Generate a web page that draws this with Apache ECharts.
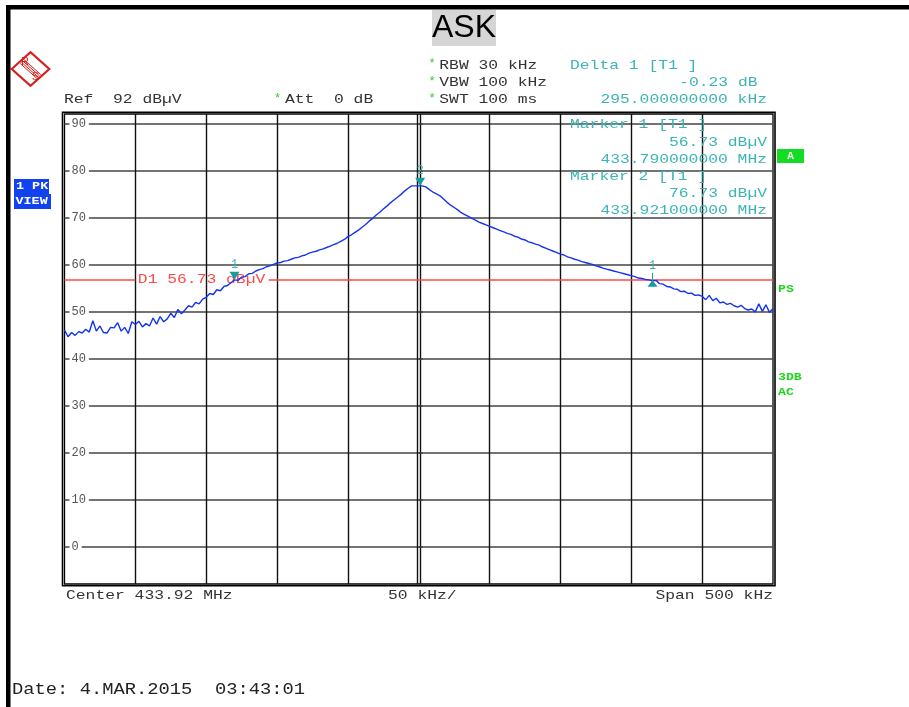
<!DOCTYPE html>
<html><head><meta charset="utf-8">
<script src="https://cdn.jsdelivr.net/npm/echarts@6/dist/echarts.min.js"></script>
<style>html,body{margin:0;padding:0;background:#fff}#c{width:909px;height:707px}</style>
</head><body><div id="c"></div>
<script>
// ---- data ----
const centerMHz = 433.92;
const spanKHz = 500;
const divKHz = 50;
const startKHz = -250;      // sweep start, offset from center (kHz)
const stepKHz = 2.5;        // sweep point spacing (kHz)
const levels = [
 46.0,44.6,45.5,44.9,45.7,45.4,46.2,45.6,48.0,45.8,
 46.9,45.5,45.4,46.6,46.5,47.6,45.8,46.6,45.3,47.8,
 47.2,47.9,46.7,47.4,46.9,48.6,47.3,48.9,47.8,48.4,
 49.6,48.7,50.4,49.5,50.3,51.2,50.9,51.9,51.6,52.6,
 53.0,53.8,53.6,54.6,54.4,55.3,55.5,56.1,56.7,56.6,
 57.3,57.4,58.0,58.1,58.6,58.9,59.1,59.5,59.7,60.0,
 60.3,60.4,60.7,60.8,61.1,61.4,61.5,61.8,62.0,62.4,
 62.6,62.8,63.1,63.3,63.6,63.9,64.2,64.5,64.9,65.3,
 65.9,66.3,66.8,67.3,67.9,68.5,69.2,69.8,70.5,71.1,
 71.8,72.4,73.1,73.7,74.3,74.9,75.6,76.2,76.7,76.7,
 76.7,76.7,76.5,75.9,75.4,75.0,74.6,73.9,73.2,72.6,
 72.1,71.6,71.0,70.6,70.2,69.8,69.4,69.0,68.7,68.4,
 68.1,67.8,67.5,67.2,66.9,66.6,66.4,66.0,65.8,65.4,
 65.2,64.8,64.6,64.3,64.1,63.7,63.4,63.1,62.8,62.5,
 62.2,62.0,61.6,61.4,61.1,60.9,60.6,60.4,60.2,60.0,
 59.7,59.5,59.2,59.0,58.8,58.6,58.4,58.2,58.0,57.8,
 57.6,57.4,57.1,57.0,56.8,56.7,56.5,56.6,55.9,55.8,
 55.3,55.2,54.8,54.7,54.2,54.3,53.8,53.9,53.4,53.5,
 53.2,52.5,53.4,52.3,52.8,51.8,52.0,51.5,51.7,51.2,
 50.9,51.3,50.6,50.3,50.5,49.9,51.6,50.0,51.4,49.8,
 50.6
];
const refLevel = 92;
const rangeDb = 100;
const yTicks = [0,10,20,30,40,50,60,70,80,90];
const xGridLines = [-200,-150,-100,-50,-1.1,1.1,50,100,150,200];
const markerFreqKHz = [-130, 1];
const markerLevel = [56.73, 76.73];
const deltaKHz = 295;
const deltaDb = -0.23;
const d1Level = 56.73;

// ---- styles ----
const MONO = '"Liberation Mono","DejaVu Sans Mono",monospace';
const TEAL = '#3cb4b4', TEAL_D = '#179b9b', GREEN = '#22d422', DARK = '#333333', RED = '#ff4848';

const traceData = levels.map((v, i) => [startKHz + i * stepKHz, v]);
const xMin = startKHz, xMax = startKHz + spanKHz;
const deltaX = markerFreqKHz[0] + deltaKHz;
const deltaLevel = +(markerLevel[0] + deltaDb).toFixed(2);

const chart = echarts.init(document.getElementById('c'));
const base = {
  animation: false,
  backgroundColor: '#fff',
  grid: { left: 64.5, top: 114, width: 708.5, height: 470, show: true, borderColor: '#000', borderWidth: 1.3, backgroundColor: 'transparent' },
  xAxis: {
    type: 'value', min: xMin, max: xMax,
    axisLine: { show: false },
    axisTick: { show: false, customValues: xGridLines },
    axisLabel: { show: false },
    splitLine: { show: true, lineStyle: { color: '#111', width: 1.4 } }
  },
  yAxis: {
    type: 'value', min: refLevel - rangeDb, max: refLevel,
    axisLine: { show: false },
    axisTick: { show: true, inside: true, length: 4, customValues: yTicks, lineStyle: { color: '#444', width: 1.5 } },
    axisLabel: { inside: true, margin: 5, customValues: yTicks, color: '#555', fontFamily: MONO, fontSize: 12,
      backgroundColor: '#fff', padding: [0, 3, 0, 2] },
    splitLine: { show: true, lineStyle: { color: '#444', width: 1.6 } }
  },
  series: [
    { id: 'd1', type: 'line', data: [], z: 2, silent: true,
      markLine: { symbol: 'none', silent: true, animation: false, label: { show: false },
        lineStyle: { color: RED, width: 1.5, type: 'solid' },
        data: [[{ coord: [xMin, d1Level] }, { coord: [xMax, d1Level] }]] } },
    { id: 'trace', type: 'line', data: traceData, showSymbol: false, z: 5, silent: true,
      lineStyle: { color: '#1434f0', width: 1.4 } },
    { id: 'markers', type: 'scatter', z: 6, silent: true,
      data: markerFreqKHz.map((f, i) => [f, markerLevel[i]]),
      symbol: 'path://M0,0 L10,0 L5,8 Z', symbolSize: [10, 8], symbolOffset: [0, -4],
      itemStyle: { color: TEAL_D, opacity: 1 },
      label: { show: true, position: 'top', distance: 1, color: TEAL, fontFamily: MONO, fontSize: 12,
        formatter: p => String(p.dataIndex + 1) } },
    { id: 'delta', type: 'scatter', z: 6, silent: true,
      data: [[deltaX, deltaLevel]],
      symbol: 'path://M4.5,0 L5.5,0 L5.5,8 L10,14 L0,14 L4.5,8 Z', symbolSize: [10, 14], symbolOffset: [0, -1],
      itemStyle: { color: TEAL_D, opacity: 1 },
      label: { show: true, position: 'top', distance: 1, color: TEAL, fontFamily: MONO, fontSize: 12, formatter: '1' } }
  ]
};
chart.setOption(base);

function t(str, x, y, color, o) {
  o = o || {};
  const al = o.align || 'left';
  const st = { text: str, fill: color, font: (o.bold ? 'bold ' : '') + (o.size || 13) + 'px ' + (o.family || MONO),
    align: al, verticalAlign: 'middle', textAlign: al, textVerticalAlign: 'middle' };
  if (o.bg) { st.backgroundColor = o.bg; st.padding = o.pad || [0, 2]; }
  return { type: 'text', x: x, y: y, z: o.z != null ? o.z : 50, scaleX: o.sx != null ? o.sx : 1.256, scaleY: o.sy || 1,
    rotation: o.rot || 0, silent: true, style: st };
}
function r(x, y, w, h, fill, z) {
  return { type: 'rect', z: z || 40, silent: true, shape: { x, y, width: w, height: h }, style: { fill } };
}

// D1 label position derived from the axis scale
const p0 = chart.convertToPixel({ gridIndex: 0 }, [xGridLines[0], d1Level]);
const d1Text = 'D1 ' + d1Level.toFixed(2) + ' dBµV';
const labelEndPx = p0[0] + d1Text.length * 7.8 * 1.256 + 6;
const labelEndX = chart.convertFromPixel({ gridIndex: 0 }, [labelEndPx, p0[1]])[0];

const gRect = chart.getModel().getComponent('grid').coordinateSystem.getRect();

const fmtMHz = f => (centerMHz + f / 1000).toFixed(9) + ' MHz';
const LOGO = '#d52020';
const graphics = [
  // page border
  r(6, 5, 903, 4.5, '#000', 60),
  r(6, 5, 4.5, 702, '#000', 60),
  // outer plot frame
  { type: 'rect', z: 40, silent: true, shape: { x: gRect.x - 2, y: gRect.y - 1.8, width: gRect.width + 4, height: gRect.height + 3.6 },
    style: { fill: 'none', stroke: '#000', lineWidth: 1.6 } },
  // title
  r(432, 10, 64, 36, '#d6d6d6', 40),
  t('ASK', 464, 28.5, '#000', { size: 32, family: '"Liberation Sans",Arial,sans-serif', align: 'center', sx: 1 }),
  // R&S logo
  { type: 'polygon', z: 40, silent: true, shape: { points: [[11.7, 69], [30.5, 52.3], [49.3, 69], [30.5, 85.7]] },
    style: { fill: '#fff', stroke: LOGO, lineWidth: 2.2 } },
  ...[-2.7, -0.9, 0.9, 2.7].map(d => ({ type: 'line', z: 41, silent: true,
    shape: { x1: 22 - 0.664 * d, y1: 61.5 + 0.747 * d, x2: 39 - 0.664 * d, y2: 76.6 + 0.747 * d },
    style: { stroke: LOGO, lineWidth: 1 } })),
  t('R', 25, 62, LOGO, { size: 11, family: '"Liberation Sans",sans-serif', align: 'center', sx: 1, z: 42 }),
  t('S', 35.5, 76.5, LOGO, { size: 11, family: '"Liberation Sans",sans-serif', align: 'center', sx: 1, z: 42 }),
  // header
  t('Ref  ' + refLevel + ' dBµV', 64, 100, DARK),
  t('*', 277.5, 99, GREEN, { size: 12, align: 'center', sx: 1 }),
  t('Att  0 dB', 285, 100, DARK),
  t('*', 432, 64, GREEN, { size: 12, align: 'center', sx: 1 }),
  t('RBW 30 kHz', 439.3, 65.3, DARK),
  t('*', 432, 81.5, GREEN, { size: 12, align: 'center', sx: 1 }),
  t('VBW 100 kHz', 439.3, 82.5, DARK),
  t('*', 432, 99, GREEN, { size: 12, align: 'center', sx: 1 }),
  t('SWT 100 ms', 439.3, 100, DARK),
  t('Delta 1 [T1 ]', 570, 65.3, TEAL),
  t(deltaDb.toFixed(2) + ' dB', 757.5, 82.5, TEAL, { align: 'right' }),
  t(deltaKHz.toFixed(9) + ' kHz', 767, 100, TEAL, { align: 'right' }),
  t('Marker 1 [T1 ]', 570, 125, TEAL),
  t(markerLevel[0].toFixed(2) + ' dBµV', 767, 142.5, TEAL, { align: 'right' }),
  t(fmtMHz(markerFreqKHz[0]), 767, 159.3, TEAL, { align: 'right' }),
  t('Marker 2 [T1 ]', 570, 176.7, TEAL),
  t(markerLevel[1].toFixed(2) + ' dBµV', 767, 193.3, TEAL, { align: 'right' }),
  t(fmtMHz(markerFreqKHz[1]), 767, 211, TEAL, { align: 'right' }),
  // left trace box
  r(14, 179, 35, 15, '#1242f0', 40),
  r(14, 194, 37, 15, '#1242f0', 40),
  t('1 PK', 16, 186.5, '#fff', { size: 11, bold: true, sx: 1.22 }),
  t('VIEW', 15.5, 201.5, '#fff', { size: 11, bold: true, sx: 1.22 }),
  // right side indicators
  r(777, 149, 27, 14, '#12dd22', 40),
  t('A', 790.5, 156, '#fff', { size: 10, bold: true, align: 'center', sx: 1.1 }),
  t('PS', 778, 289, GREEN, { size: 11, bold: true, sx: 1.2 }),
  t('3DB', 778, 377, GREEN, { size: 11, bold: true, sx: 1.2 }),
  t('AC', 778, 392, GREEN, { size: 11, bold: true, sx: 1.2 }),
  // D1 label
  t(d1Text, p0[0] + 2.5, p0[1], RED, { z: 3 }),
  // bottom
  t('Center ' + centerMHz.toFixed(2) + ' MHz', 66, 596, DARK),
  t(divKHz + ' kHz/', 388, 596, DARK),
  t('Span ' + spanKHz + ' kHz', 773, 596, DARK, { align: 'right' }),
  t('Date: 4.MAR.2015  03:43:01', 12, 690, '#222', { size: 16, sx: 1.174 })
];

chart.setOption({
  series: [{ id: 'd1', markLine: { data: [
    [{ coord: [xMin, d1Level] }, { coord: [xGridLines[0], d1Level] }],
    [{ coord: [labelEndX, d1Level] }, { coord: [xMax, d1Level] }]
  ] } }],
  graphic: { elements: graphics }
});
</script>
</body></html>
